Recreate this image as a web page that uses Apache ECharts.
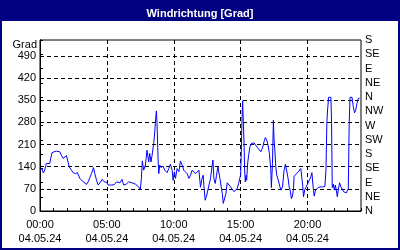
<!DOCTYPE html>
<html>
<head>
<meta charset="utf-8">
<script src="https://cdn.jsdelivr.net/npm/echarts@6/dist/echarts.min.js"></script>
<style>
html,body{margin:0;padding:0;background:#fff;}
#chart{width:400px;height:250px;}
</style>
</head>
<body>
<div id="chart"></div>
<script>
// Time of day in hours (04.05.24) and wind direction in degrees
var hours = [
 0.00,0.15,0.25,0.35,0.48,0.60,0.73,0.80,0.90,1.05,1.23,1.35,1.48,1.60,1.73,1.85,1.98,2.10,2.18,2.35,
 2.48,2.65,2.80,2.90,2.98,3.10,3.23,3.35,3.48,3.60,3.73,3.85,4.00,4.10,4.23,4.35,4.48,4.65,4.80,4.98,
 5.10,5.23,5.35,5.55,5.73,5.85,5.98,6.13,6.25,6.45,6.63,6.75,6.88,7.00,7.13,7.25,7.38,7.50,7.58,7.65,
 7.75,7.88,8.00,8.13,8.20,8.30,8.38,8.50,8.58,8.65,8.70,8.75,8.83,8.88,8.95,9.05,9.20,9.33,9.50,9.63,
 9.75,9.88,9.95,10.05,10.13,10.25,10.38,10.50,10.63,10.75,10.88,11.00,11.13,11.25,11.38,11.50,11.63,11.75,11.88,12.00,
 12.10,12.20,12.25,12.35,12.45,12.55,12.65,12.75,12.85,12.93,13.00,13.10,13.20,13.30,13.38,13.45,13.55,13.63,13.70,13.80,
 13.90,14.00,14.13,14.25,14.38,14.50,14.63,14.75,14.85,14.95,15.00,15.05,15.10,15.15,15.20,15.25,15.30,15.35,15.40,15.45,
 15.53,15.60,15.70,15.80,15.90,16.00,16.13,16.25,16.38,16.50,16.63,16.75,16.85,16.95,17.05,17.15,17.25,17.30,17.38,17.45,
 17.50,17.55,17.63,17.70,17.80,17.90,18.00,18.13,18.25,18.35,18.45,18.55,18.63,18.70,18.80,18.88,18.95,19.00,19.13,19.25,
 19.38,19.50,19.58,19.65,19.70,19.80,19.90,20.00,20.13,20.25,20.33,20.40,20.50,20.60,20.70,20.80,20.95,21.13,21.30,21.38,
 21.45,21.50,21.58,21.65,21.75,21.80,21.85,21.93,22.00,22.08,22.15,22.23,22.30,22.40,22.50,22.60,22.70,22.80,22.90,23.00,
 23.05,23.12,23.18,23.33,23.42,23.52,23.60,23.70,23.80,23.90
];
var windDir = [
 129,134,120,129,150,155,150,166,184,187,189,184,187,176,166,171,175,176,140,129,
 121,118,121,127,103,97,92,87,84,92,106,118,137,118,97,82,89,100,92,91,
 82,87,82,83,92,97,89,100,82,85,92,92,89,92,85,89,76,68,103,158,
 129,145,192,155,182,155,176,213,250,292,316,277,161,118,145,137,142,129,121,134,
 148,129,97,124,103,134,124,158,145,129,134,118,103,113,129,134,118,113,129,75,
 100,113,82,34,47,66,71,103,137,161,103,87,113,140,142,103,76,55,24,29,
 55,89,85,76,71,61,63,71,87,106,113,187,287,348,282,224,129,92,113,97,
 152,176,203,213,219,215,213,201,205,187,198,219,232,224,208,182,134,74,150,287,
 224,198,140,113,100,100,66,76,129,148,142,103,76,66,39,47,71,110,116,121,
 127,134,103,76,45,68,76,82,97,108,121,85,47,66,71,74,76,76,78,129,
 282,319,359,359,359,277,74,85,66,82,66,45,66,89,76,71,61,66,57,61,
 71,282,359,359,330,310,318,340,356,356
];
var leftTicks = [0,70,140,210,280,350,420,490];
var compass = ['N','NE','E','SE','S','SW','W','NW','N','NE','E','SE','S'];
var hourLabels = ['00:00','05:00','10:00','15:00','20:00'];
var dateLabel = '04.05.24';
var titleText = 'Windrichtung [Grad]';
var unitText = 'Grad';

var FONT = '"Liberation Sans Narrow", "Liberation Sans", sans-serif';
var chart = echarts.init(document.getElementById('chart'), null, {renderer:'canvas'});
var data = hours.map(function(h,i){return [h, windDir[i]];});

chart.setOption({
  animation:false,
  backgroundColor:'#ffffff',
  title:{
    text:titleText, left:'center', top:3,
    textStyle:{color:'#ffffff', fontSize:11, fontWeight:'bold', fontFamily:'"Liberation Sans", sans-serif'}
  },
  graphic:[
    {type:'rect', z:-1, shape:{x:0,y:0,width:400,height:21}, style:{fill:'#000080'}, silent:true},
    {type:'rect', z:-1, shape:{x:1,y:1,width:398,height:248}, style:{fill:null, stroke:'#000080', lineWidth:2}, silent:true},
    {type:'text', x:37, y:45, style:{text:unitText, fill:'#000', font:'11px ' + FONT, align:'right', verticalAlign:'middle'}, silent:true}
  ],
  grid:{left:40, right:39, top:40, bottom:39, show:true, borderColor:'#000', borderWidth:1, backgroundColor:'#fff'},
  xAxis:[
    {type:'value', min:0, max:24, interval:1, position:'bottom',
     axisLine:{show:true, lineStyle:{color:'#000', width:1}},
     axisTick:{show:true, inside:true, length:3, lineStyle:{color:'#000'}},
     axisLabel:{show:false}, splitLine:{show:false}},
    {type:'value', min:0, max:24, interval:5, position:'bottom',
     axisLine:{show:false}, axisTick:{show:false},
     axisLabel:{show:true, showMaxLabel:false, margin:7, color:'#000', fontSize:11, fontFamily:FONT, lineHeight:14,
       formatter:function(v){var i=Math.round(v/5); return (hourLabels[i]||'') + '\n' + dateLabel;}},
     splitLine:{show:true, showMinLine:false, showMaxLine:false, lineStyle:{color:'#000', type:[4,3], width:1}}}
  ],
  yAxis:[
    {type:'value', min:0, max:540, interval:70, position:'left',
     axisLine:{show:true, lineStyle:{color:'#000'}}, axisTick:{show:false},
     axisLabel:{show:true, showMaxLabel:false, margin:4, color:'#000', fontSize:11, fontFamily:FONT,
       formatter:function(v){return leftTicks.indexOf(v)>=0 ? String(v) : '';}},
     splitLine:{show:true, showMinLine:false, showMaxLine:false, lineStyle:{color:'#000', type:[4,3], width:1}}},
    {type:'value', min:0, max:540, interval:45, position:'right',
     axisLine:{show:true, lineStyle:{color:'#000'}},
     axisTick:{show:true, inside:false, length:3, lineStyle:{color:'#000'}},
     axisLabel:{show:true, margin:4, color:'#000', fontSize:11, fontFamily:FONT,
       formatter:function(v){return compass[Math.round(v/45)]||'';}},
     splitLine:{show:false}}
  ],
  series:[{
    type:'line', xAxisIndex:0, yAxisIndex:0, data:data, symbol:'none',
    lineStyle:{color:'#0000ff', width:1}, clip:true
  }]
});
</script>
</body>
</html>
